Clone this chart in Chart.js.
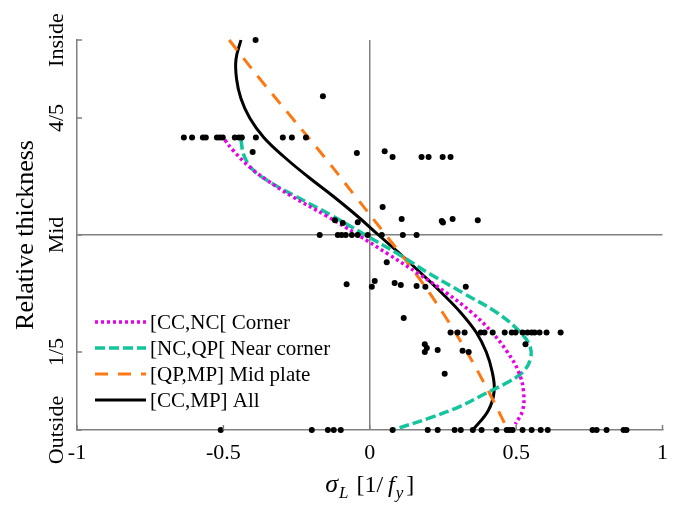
<!DOCTYPE html>
<html>
<head>
<meta charset="utf-8">
<script src="https://cdn.jsdelivr.net/npm/chart.js@4.4.0/dist/chart.umd.min.js"></script>
<style>
    html, body { margin: 0; padding: 0; background: #fff; }
    #wrap { width: 678px; height: 505px; }
</style>
</head>
<body>
<div id="wrap"><canvas id="stress-chart" width="678" height="505"></canvas></div>
<script>
// Tick labels
const xTickLabels = ['-1', '-0.5', '0', '0.5', '1'];
const yTickValues = [0, 0.2, 0.5, 0.8, 1];
const yTickLabels = ['Outside', '1/5', 'Mid', '4/5', 'Inside'];

// Measured longitudinal stresses (x) against relative thickness (y)
const scatterX = [
    -0.39, -0.16,
    -0.635, -0.607, -0.570, -0.560, -0.522, -0.512, -0.502, -0.461, -0.447, -0.437, -0.389, -0.297, -0.266, -0.218,
    -0.40, -0.044, 0.051, 0.078, 0.177, 0.201, 0.249, 0.276,
    0.044, -0.119, -0.092, -0.041, 0.109, 0.246, 0.250, 0.283, 0.369,
    -0.171, -0.109, -0.096, -0.082, -0.061, -0.041, -0.007, 0.041, 0.113, 0.160,
    0.058, -0.079, 0.007, 0.017, 0.085, 0.106, 0.160, 0.190, 0.328, 0.116,
    0.276, 0.300, 0.324, 0.379, 0.392, 0.420, 0.461, 0.485, 0.498, 0.522, 0.539, 0.553, 0.563, 0.580, 0.604, 0.652,
    0.188, 0.195, 0.188, 0.232, 0.317, 0.338, 0.532, 0.256,
    -0.509, -0.198, -0.143, -0.123, -0.099, 0.078, 0.198, 0.232, 0.290, 0.311, 0.352, 0.382, 0.433,
    0.468, 0.478, 0.488, 0.522, 0.553, 0.584, 0.608, 0.761, 0.775, 0.809, 0.867, 0.877
];
const scatterY = [
    1.0, 0.856,
    0.75, 0.75, 0.75, 0.75, 0.75, 0.75, 0.75, 0.75, 0.75, 0.75, 0.75, 0.75, 0.75, 0.75,
    0.713, 0.71, 0.715, 0.70, 0.70, 0.70, 0.70, 0.70,
    0.572, 0.538, 0.531, 0.533, 0.541, 0.536, 0.532, 0.541, 0.538,
    0.5, 0.5, 0.5, 0.5, 0.5, 0.5, 0.5, 0.5, 0.5, 0.5,
    0.43, 0.374, 0.367, 0.382, 0.377, 0.372, 0.369, 0.367, 0.367, 0.287,
    0.25, 0.25, 0.25, 0.25, 0.25, 0.25, 0.25, 0.25, 0.25, 0.25, 0.25, 0.25, 0.25, 0.25, 0.25, 0.25,
    0.22, 0.21, 0.20, 0.205, 0.203, 0.20, 0.22, 0.144,
    0, 0, 0, 0, 0, 0, 0, 0, 0, 0, 0, 0, 0,
    0, 0, 0, 0, 0, 0, 0, 0, 0, 0, 0, 0
];

// Fitted profiles
const cornerX = [-0.495, -0.468, -0.410, -0.350, -0.268, -0.150, -0.040, 0.065, 0.168, 0.265, 0.350, 0.418, 0.470, 0.508, 0.525, 0.522, 0.497];
const cornerY = [0.744, 0.718, 0.674, 0.640, 0.600, 0.550, 0.500, 0.450, 0.400, 0.350, 0.300, 0.250, 0.200, 0.150, 0.100, 0.050, 0.015];

const nearX = [-0.440, -0.430, -0.400, -0.335, -0.255, -0.130, -0.015, 0.100, 0.206, 0.322, 0.436, 0.515, 0.548, 0.548, 0.522, 0.468, 0.399, 0.307, 0.205, 0.078];
const nearY = [0.744, 0.705, 0.668, 0.633, 0.600, 0.550, 0.500, 0.450, 0.400, 0.350, 0.300, 0.250, 0.213, 0.180, 0.148, 0.121, 0.095, 0.060, 0.031, 0.0];

const midX = [-0.480, -0.375, -0.265, -0.155, -0.050, 0.055, 0.158, 0.250, 0.332, 0.405, 0.472];
const midY = [1.0, 0.9, 0.8, 0.7, 0.6, 0.5, 0.4, 0.3, 0.2, 0.1, 0.0];

const allX = [-0.440, -0.457, -0.455, -0.440, -0.410, -0.362, -0.292, -0.212, -0.126, -0.045, 0.030, 0.106, 0.178, 0.248, 0.312, 0.364, 0.398, 0.418, 0.425, 0.405, 0.352];
const allY = [1.0, 0.95, 0.90, 0.85, 0.80, 0.75, 0.70, 0.65, 0.60, 0.55, 0.50, 0.45, 0.40, 0.35, 0.30, 0.25, 0.20, 0.15, 0.10, 0.05, 0.0];

const axisColor = '#808080';
const serif = '"Liberation Serif", "Times New Roman", serif';

const toPoints = (xs, ys) => xs.map((x, i) => ({ x: x, y: ys[i] }));

function curve(label, xs, ys, color, dash, width) {
    return {
        label: label,
        data: toPoints(xs, ys),
        showLine: true,
        borderColor: color,
        backgroundColor: color,
        borderWidth: width,
        borderDash: dash,
        borderCapStyle: 'butt',
        pointRadius: 0,
        tension: 0.4,
        clip: false,
        order: 1
    };
}

// Inward ticks, rotated y labels, axis titles and the legend
const decorations = {
    id: 'decorations',
    afterDraw(chart) {
        const ctx = chart.ctx;
        const area = chart.chartArea;
        const xs = chart.scales.x;
        const ys = chart.scales.y;
        ctx.save();

        ctx.strokeStyle = axisColor;
        ctx.lineWidth = 1.5;
        ctx.beginPath();
        yTickValues.forEach(v => {
            const py = ys.getPixelForValue(v);
            ctx.moveTo(area.left, py);
            ctx.lineTo(area.left + 5, py);
        });
        xs.ticks.forEach(t => {
            const px = xs.getPixelForValue(t.value);
            ctx.moveTo(px, area.bottom);
            ctx.lineTo(px, area.bottom - 5);
        });
        ctx.stroke();

        ctx.fillStyle = '#000';
        ctx.textAlign = 'center';
        ctx.textBaseline = 'alphabetic';
        ctx.font = '22px ' + serif;
        yTickLabels.forEach((lab, i) => {
            ctx.save();
            ctx.translate(area.left - 14, ys.getPixelForValue(yTickValues[i]));
            ctx.rotate(-Math.PI / 2);
            ctx.fillText(lab, 0, 0);
            ctx.restore();
        });

        ctx.font = '26px ' + serif;
        ctx.save();
        ctx.translate(area.left - 44, (area.top + area.bottom) / 2);
        ctx.rotate(-Math.PI / 2);
        ctx.fillText('Relative thickness', 0, 0);
        ctx.restore();

        // sigma_L [1/f_y]
        const parts = [
            { t: '\u03C3', f: 'italic 26px ', dy: 0, gap: 0 },
            { t: 'L', f: 'italic 17px ', dy: 6, gap: 1 },
            { t: ' [1/', f: '24px ', dy: 0, gap: 2 },
            { t: 'f', f: 'italic 24px ', dy: 0, gap: 5 },
            { t: 'y', f: 'italic 17px ', dy: 6, gap: 1 },
            { t: ']', f: '24px ', dy: 0, gap: 3 }
        ];
        let total = 0;
        parts.forEach(p => {
            ctx.font = p.f + serif;
            p.w = ctx.measureText(p.t).width;
            total += p.gap + p.w;
        });
        let cx = (area.left + area.right) / 2 - total / 2;
        const base = area.bottom + 62;
        ctx.textAlign = 'left';
        parts.forEach(p => {
            ctx.font = p.f + serif;
            cx += p.gap;
            ctx.fillText(p.t, cx, base + p.dy);
            cx += p.w;
        });

        // legend
        const lx0 = area.left + 18;
        const lx1 = area.left + 69;
        ctx.font = '21px ' + serif;
        ctx.textBaseline = 'middle';
        chart.data.datasets.filter(d => d.showLine).forEach((d, i) => {
            const ly = area.bottom - 108 + i * 26;
            ctx.strokeStyle = d.borderColor;
            ctx.lineWidth = d.borderWidth;
            ctx.lineCap = 'butt';
            ctx.setLineDash(d.borderDash);
            ctx.beginPath();
            ctx.moveTo(lx0, ly);
            ctx.lineTo(lx1, ly);
            ctx.stroke();
            ctx.setLineDash([]);
            ctx.fillStyle = '#000';
            ctx.fillText(d.label, lx1 + 4, ly + 1);
        });

        ctx.restore();
    }
};

new Chart(document.getElementById('stress-chart'), {
    type: 'scatter',
    data: {
        datasets: [
            curve('[CC,NC[ Corner', cornerX, cornerY, 'rgb(230, 0, 230)', [3, 3], 3.5),
            curve('[NC,QP[ Near corner', nearX, nearY, 'rgb(20, 196, 156)', [10, 4], 3.5),
            curve('[QP,MP] Mid plate', midX, midY, 'rgb(255, 120, 20)', [13, 10], 3),
            curve('[CC,MP] All', allX, allY, '#000', [], 3),
            {
                label: 'Measurements',
                data: toPoints(scatterX, scatterY),
                backgroundColor: '#000',
                borderColor: '#000',
                pointRadius: 3,
                pointBorderWidth: 0,
                clip: false,
                order: 0
            }
        ]
    },
    options: {
        responsive: false,
        animation: false,
        layout: { padding: { top: 40, right: 15, left: 0, bottom: 0 } },
        plugins: {
            legend: { display: false },
            tooltip: { enabled: false }
        },
        scales: {
            x: {
                type: 'linear',
                min: -1,
                max: 1,
                afterFit: scale => { scale.height = 75; },
                ticks: {
                    stepSize: 0.5,
                    padding: 10,
                    color: '#000',
                    font: { family: serif, size: 22 },
                    callback: (value, index) => xTickLabels[index]
                },
                border: { display: true, color: axisColor, width: 1.5 },
                grid: {
                    drawTicks: false,
                    lineWidth: 1.5,
                    color: c => (c.tick && c.tick.value === 0 ? axisColor : 'rgba(0,0,0,0)')
                }
            },
            y: {
                type: 'linear',
                min: 0,
                max: 1,
                afterFit: scale => { scale.width = 77; },
                afterBuildTicks: scale => { scale.ticks = yTickValues.map(v => ({ value: v })); },
                ticks: { display: false },
                border: { display: true, color: axisColor, width: 1.5 },
                grid: {
                    drawTicks: false,
                    lineWidth: 1.5,
                    color: c => (c.tick && c.tick.value === 0.5 ? axisColor : 'rgba(0,0,0,0)')
                }
            }
        }
    },
    plugins: [decorations]
});
</script>
</body>
</html>
